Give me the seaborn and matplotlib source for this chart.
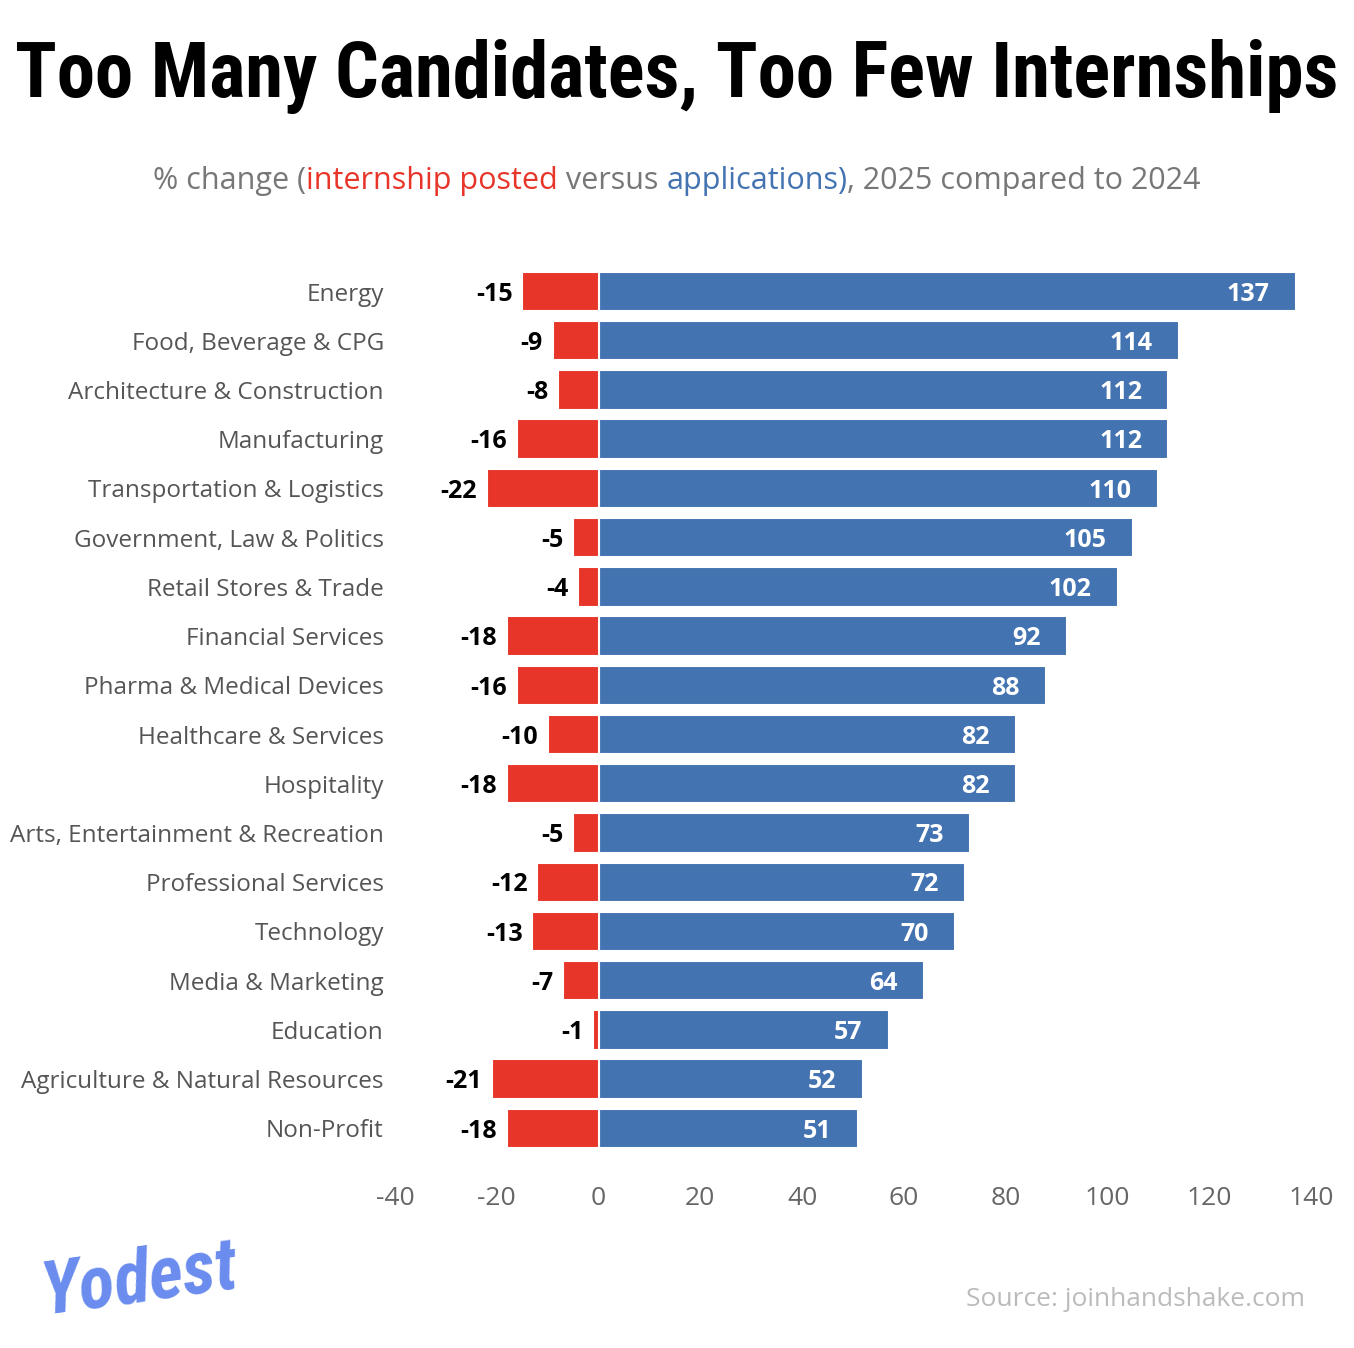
import matplotlib
matplotlib.use('Agg')
import matplotlib.pyplot as plt
import seaborn as sns
import pandas as pd

# data
industries = ['Energy', 'Food, Beverage & CPG', 'Architecture & Construction', 'Manufacturing',
              'Transportation & Logistics', 'Government, Law & Politics', 'Retail Stores & Trade',
              'Financial Services', 'Pharma & Medical Devices', 'Healthcare & Services', 'Hospitality',
              'Arts, Entertainment & Recreation', 'Professional Services', 'Technology',
              'Media & Marketing', 'Education', 'Agriculture & Natural Resources', 'Non-Profit']
postings = [-15, -9, -8, -16, -22, -5, -4, -18, -16, -10, -18, -5, -12, -13, -7, -1, -21, -18]
applications = [137, 114, 112, 112, 110, 105, 102, 92, 88, 82, 82, 73, 72, 70, 64, 57, 52, 51]
x_ticks = [-40, -20, 0, 20, 40, 60, 80, 100, 120, 140]

RED = '#E8352A'
BLUE = '#4373B1'
GRAY = '#666666'
COND = ['Roboto Condensed', 'Roboto', 'DejaVu Sans']

df = pd.DataFrame({'industry': industries, 'posted': postings, 'apps': applications})

sns.set_style('white')
plt.rcParams['font.family'] = ['Open Sans', 'DejaVu Sans']

fig = plt.figure(figsize=(13.54, 13.48), dpi=100)
ax = fig.add_axes([0.2917, 0.1447, 0.6765, 0.6573])

sns.barplot(data=df, y='industry', x='apps', color=BLUE, saturation=1, width=0.8,
            edgecolor='white', linewidth=1.5, ax=ax, order=industries)
sns.barplot(data=df, y='industry', x='posted', color=RED, saturation=1, width=0.8,
            edgecolor='white', linewidth=1.5, ax=ax, order=industries)

for i, (p, a) in enumerate(zip(postings, applications)):
    ax.annotate(f'{a}', (a, i), xytext=(-19, -2), textcoords='offset points',
                ha='right', va='center', color='white', fontsize=18, fontweight='bold')
    ax.annotate(f'{p}', (p, i), xytext=(-7, -2), textcoords='offset points',
                ha='right', va='center', color='black', fontsize=18, fontweight='bold')

ax.set_xlim(-40, 140)
ax.set_ylim(len(industries) - 0.5, -0.5)
ax.set_xticks(x_ticks)
ax.set_xticklabels([str(t) for t in x_ticks])
ax.tick_params(axis='x', length=0, pad=24, labelsize=19, labelcolor=GRAY)
ax.tick_params(axis='y', length=0, pad=8, labelsize=17.5, labelcolor='#555555')
ax.set_xlabel('')
ax.set_ylabel('')
for s in ax.spines.values():
    s.set_visible(False)

fig.canvas.draw()
renderer = fig.canvas.get_renderer()

# title, sized to span the width like the reference
title = fig.text(0.5, 0.943, 'Too Many Candidates, Too Few Internships', ha='center', va='center',
                 fontsize=50, fontweight='heavy', color='black', family=COND)
w = title.get_window_extent(renderer).width
title.set_fontsize(50 * 1325 / w)

# subtitle in coloured pieces
parts = [('% change (', '#777777'), ('internship posted', RED), (' versus ', '#777777'),
         ('applications)', BLUE), (', 2025 compared to 2024', '#777777')]
texts = []
widths = []
for s, c in parts:
    t = fig.text(0, 0.866, s, color=c, fontsize=22, va='center', ha='left')
    texts.append(t)
    widths.append(t.get_window_extent(renderer).width / fig.bbox.width)
x0 = 0.5 - sum(widths) / 2
for t, w in zip(texts, widths):
    t.set_x(x0)
    x0 += w

fig.text(0.964, 0.036, 'Source: joinhandshake.com', ha='right', va='center',
         fontsize=19, color='#BBBBBB')

logo = fig.text(0.103, 0.050, 'Yodest', ha='center', va='center', fontsize=48, fontweight='heavy',
                style='italic', color='#6A8CEE', rotation=8, family=COND)
lw = logo.get_window_extent(renderer).width
logo.set_fontsize(48 * 205 / lw)

fig.savefig('out.png', dpi=100, facecolor='white')
